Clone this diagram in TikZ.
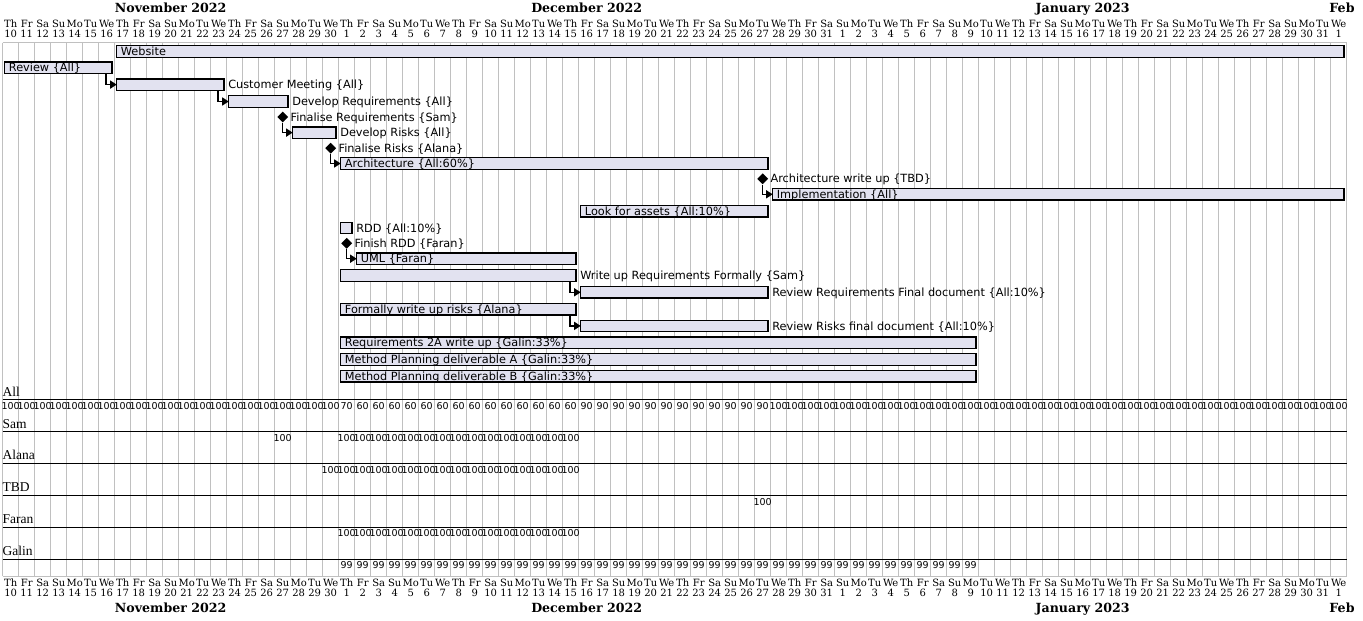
\documentclass[tikz,border=0pt]{standalone}
\usepackage{fontspec}
\usetikzlibrary{positioning, arrows.meta, shapes.geometric}
\newfontfamily\hdrserif{DejaVu Serif}
\newfontfamily\resserif{Liberation Serif}
\newfontfamily\lblsans{DejaVu Sans}
\definecolor{barfill}{HTML}{E2E2F0}
\definecolor{gridgray}{HTML}{C0C0C0}
\definecolor{ink}{HTML}{000000}
\newcommand\wkname[1]{\ifcase#1 Th\or Fr\or Sa\or Su\or Mo\or Tu\or We\fi}
% bar: name, first day column, number of days, row y
\newcommand\gtask[4]{\node[taskbar, minimum width={16*(#3)-4.6}] (#1) at ({2.7+16*(#2)+2},#4) {};}

\begin{document}
\begin{tikzpicture}[x=1pt, y=-1pt,
    taskbar/.style={draw=ink, line width=1.3pt, fill=barfill, minimum height=11.5pt,
                    inner sep=0pt, outer sep=0pt, anchor=west},
    tasklbl/.style={font=\lblsans\fontsize{11.3}{13}\selectfont, inner sep=0pt,
                    text height=8.2pt, text depth=0pt, anchor=west},
    mstone/.style={diamond, fill=ink, minimum width=11pt, minimum height=11pt, inner sep=0pt},
    dep/.style={line width=1.3pt, -{Triangle[length=6.5pt, width=8pt]}},
    daylbl/.style={font=\hdrserif\fontsize{10}{11}\selectfont, inner sep=0pt, anchor=base},
    monlbl/.style={font=\hdrserif\bfseries\fontsize{12.6}{14}\selectfont, inner sep=0pt, anchor=base},
    reslbl/.style={font=\resserif\fontsize{13.5}{15}\selectfont, inner sep=0pt, anchor=base west},
    load/.style={font=\lblsans\fontsize{9.5}{10}\selectfont, inner sep=0pt, anchor=base},
    gridline/.style={gridgray, line width=1pt},
    resline/.style={ink, line width=1pt}]
  \useasboundingbox (0,0) rectangle (1363,621);

  % ---- day grid ----
  \foreach \i in {0,...,84}
    \draw[gridline] ({2.7+16*\i},42.7) -- ({2.7+16*\i},576);
  \draw[gridline] (2.7,42.7) -- (1346.7,42.7);
  \draw[gridline] (2.7,576) -- (1346.7,576);

  % ---- calendar header and footer ----
  \foreach \i in {0,...,83}{
    \pgfmathtruncatemacro\dn{\i<21 ? \i+10 : (\i<52 ? \i-20 : (\i<83 ? \i-51 : 1))}
    \pgfmathtruncatemacro\wk{mod(\i,7)}
    \node[daylbl] (wt\i) at ({10.7+16*\i},27.3) {\wkname{\wk}};
    \node[daylbl] (nt\i) at ({10.7+16*\i},37.9) {\dn};
    \node[daylbl] (wb\i) at ({10.7+16*\i},586.2) {\wkname{\wk}};
    \node[daylbl] (nb\i) at ({10.7+16*\i},596.6) {\dn};
  }
  \foreach \m/\mx/\mname in {nov/170.7/November 2022, dec/586.7/December 2022,
                             jan/1082.7/January 2023, feb/1342/Feb}{
    \node[monlbl] (\m-top) at (\mx,12.3) {\mname};
    \node[monlbl] (\m-bot) at (\mx,612.7) {\mname};
  }

  % ---- tasks ----
  \gtask{web}{7}{77}{51.5}
  \node[tasklbl] (web-t) at ([xshift=4pt]web.west) {Website};
  \gtask{review}{0}{7}{67.8}
  \node[tasklbl] (review-t) at ([xshift=4pt]review.west) {Review \{All\}};
  \gtask{custmeet}{7}{7}{84.6}
  \node[tasklbl] (custmeet-t) at ([xshift=4pt]custmeet.east) {Customer Meeting \{All\}};
  \gtask{devreq}{14}{4}{101.5}
  \node[tasklbl] (devreq-t) at ([xshift=4pt]devreq.east) {Develop Requirements \{All\}};
  \node[mstone] (finreq) at (282.7,117) {};
  \node[tasklbl] (finreq-t) at ([xshift=2pt]finreq.east) {Finalise Requirements \{Sam\}};
  \gtask{devrisk}{18}{3}{132.6}
  \node[tasklbl] (devrisk-t) at ([xshift=4pt]devrisk.east) {Develop Risks \{All\}};
  \node[mstone] (finrisk) at (330.7,148.2) {};
  \node[tasklbl] (finrisk-t) at ([xshift=2pt]finrisk.east) {Finalise Risks \{Alana\}};
  \gtask{arch}{21}{27}{163.5}
  \node[tasklbl] (arch-t) at ([xshift=4pt]arch.west) {Architecture \{All:60\%\}};
  \node[mstone] (archwr) at (762.7,178.8) {};
  \node[tasklbl] (archwr-t) at ([xshift=2pt]archwr.east) {Architecture write up \{TBD\}};
  \gtask{impl}{48}{36}{194.3}
  \node[tasklbl] (impl-t) at ([xshift=4pt]impl.west) {Implementation \{All\}};
  \gtask{assets}{36}{12}{211.1}
  \node[tasklbl] (assets-t) at ([xshift=4pt]assets.west) {Look for assets \{All:10\%\}};
  \gtask{rdd}{21}{1}{228}
  \node[tasklbl] (rdd-t) at ([xshift=4pt]rdd.east) {RDD \{All:10\%\}};
  \node[mstone] (finrdd) at (346.7,243.3) {};
  \node[tasklbl] (finrdd-t) at ([xshift=2pt]finrdd.east) {Finish RDD \{Faran\}};
  \gtask{uml}{22}{14}{258.7}
  \node[tasklbl] (uml-t) at ([xshift=4pt]uml.west) {UML \{Faran\}};
  \gtask{wrreq}{21}{15}{275.5}
  \node[tasklbl] (wrreq-t) at ([xshift=4pt]wrreq.east) {Write up Requirements Formally \{Sam\}};
  \gtask{revreq}{36}{12}{292.3}
  \node[tasklbl] (revreq-t) at ([xshift=4pt]revreq.east) {Review Requirements Final document \{All:10\%\}};
  \gtask{wrrisk}{21}{15}{309.1}
  \node[tasklbl] (wrrisk-t) at ([xshift=4pt]wrrisk.west) {Formally write up risks \{Alana\}};
  \gtask{revrisk}{36}{12}{325.9}
  \node[tasklbl] (revrisk-t) at ([xshift=4pt]revrisk.east) {Review Risks final document \{All:10\%\}};
  \gtask{req2a}{21}{40}{342.7}
  \node[tasklbl] (req2a-t) at ([xshift=4pt]req2a.west) {Requirements 2A write up \{Galin:33\%\}};
  \gtask{mpa}{21}{40}{359.5}
  \node[tasklbl] (mpa-t) at ([xshift=4pt]mpa.west) {Method Planning deliverable A \{Galin:33\%\}};
  \gtask{mpb}{21}{40}{376.3}
  \node[tasklbl] (mpb-t) at ([xshift=4pt]mpb.west) {Method Planning deliverable B \{Galin:33\%\}};

  % ---- dependencies ----
  \draw[dep] ([xshift=-6pt]review.south east) |- (custmeet.west);
  \draw[dep] ([xshift=-6pt]custmeet.south east) |- (devreq.west);
  \draw[dep] (finreq.south) |- (devrisk.west);
  \draw[dep] (finrisk.south) |- (arch.west);
  \draw[dep] (archwr.south) |- (impl.west);
  \draw[dep] (finrdd.south) |- (uml.west);
  \draw[dep] ([xshift=-6pt]wrreq.south east) |- (revreq.west);
  \draw[dep] ([xshift=-6pt]wrrisk.south east) |- (revrisk.west);

  % ---- resource load ----
  \foreach \r/\rname [count=\k from 0] in {all/All, sam/Sam, alana/Alana, tbd/TBD, faran/Faran, galin/Galin}{
    \node[reslbl] (res-\r) at (2.5,{399.5+31.9*\k-3.4}) {\rname};
    \draw[resline] (2.7,{399.5+31.9*\k}) -- (1346.7,{399.5+31.9*\k});
  }
  \foreach \i/\v in {21/70, 47/90}
    \node[load] (all\i) at ({10.7+16*\i},409.3) {\v};
  \foreach \i in {0,...,20,48,49,...,83}
    \node[load] (all\i) at ({10.7+16*\i},409.3) {100};
  \foreach \i in {22,...,35}
    \node[load] (all\i) at ({10.7+16*\i},409.3) {60};
  \foreach \i in {36,...,46}
    \node[load] (all\i) at ({10.7+16*\i},409.3) {90};
  \foreach \i in {17,21,22,...,35}
    \node[load] (sam\i) at ({10.7+16*\i},441.2) {100};
  \foreach \i in {20,21,...,35}
    \node[load] (alana\i) at ({10.7+16*\i},473.1) {100};
  \node[load] (tbd47) at ({10.7+16*47},505.0) {100};
  \foreach \i in {21,...,35}
    \node[load] (faran\i) at ({10.7+16*\i},536.9) {100};
  \foreach \i in {21,...,60}
    \node[load] (galin\i) at ({10.7+16*\i},568.8) {99};
\end{tikzpicture}
\end{document}
